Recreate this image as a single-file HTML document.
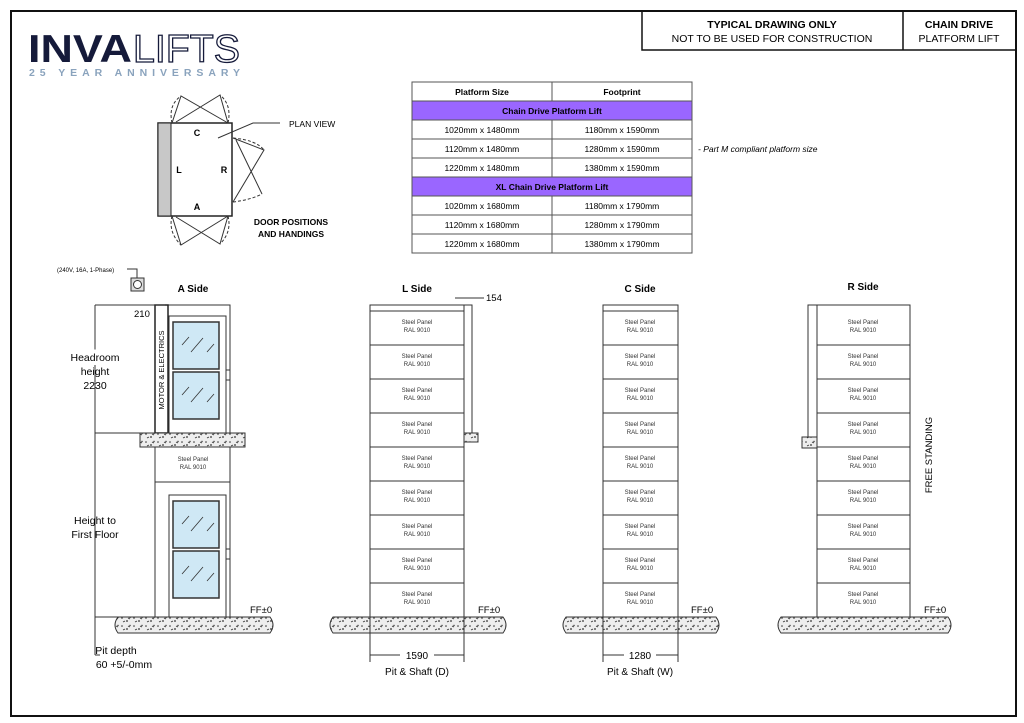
<!DOCTYPE html>
<html><head><meta charset="utf-8"><style>
html,body{margin:0;padding:0;background:#fff}
svg{display:block;font-family:"Liberation Sans",sans-serif}
.p{font-size:6px;fill:#333;text-anchor:middle}
.ln{stroke:#333;fill:none;stroke-width:1}
.g{fill:#fff;stroke:#333;stroke-width:1}
.gl{fill:#cfe8f5;stroke:#333;stroke-width:1.5}
</style></head><body>
<svg width="1024" height="723" viewBox="0 0 1024 723">
<defs>
<pattern id="conc" width="12" height="8" patternUnits="userSpaceOnUse">
<rect width="12" height="8" fill="#eee"/>
<circle cx="2" cy="2" r=".8" fill="#333"/><circle cx="7" cy="5" r=".9" fill="#333"/><circle cx="10" cy="1.5" r=".7" fill="#333"/><path d="M3 6l2-1M8 2l2 1" stroke="#333" stroke-width=".8"/>
</pattern>
</defs>
<rect x="11" y="11" width="1005" height="705" fill="none" stroke="#111" stroke-width="2"/>
<rect x="642" y="11" width="374" height="39" fill="none" stroke="#111" stroke-width="1.5"/>
<line x1="903" y1="11" x2="903" y2="50" stroke="#111" stroke-width="1.5"/>
<text x="772" y="28" font-size="10.5" font-weight="bold" text-anchor="middle">TYPICAL DRAWING ONLY</text>
<text x="772" y="42" font-size="10.5" text-anchor="middle">NOT TO BE USED FOR CONSTRUCTION</text>
<text x="959" y="28" font-size="10.5" font-weight="bold" text-anchor="middle">CHAIN DRIVE</text>
<text x="959" y="42" font-size="10.5" text-anchor="middle">PLATFORM LIFT</text>
<text x="28" y="62" font-size="39" font-weight="bold" fill="#151a3a" textLength="104" lengthAdjust="spacingAndGlyphs">INVA</text>
<text x="133" y="62" font-size="39" fill="#fff" stroke="#151a3a" stroke-width="1.3" textLength="107" lengthAdjust="spacingAndGlyphs">LIFTS</text>
<text x="29" y="76" font-size="10.5" font-weight="bold" fill="#8aa3bd" textLength="211" lengthAdjust="spacing">25 YEAR ANNIVERSARY</text>
<rect x="158" y="123" width="74" height="93" fill="#fff" stroke="#222" stroke-width="1.5"/>
<rect x="158" y="123" width="13" height="93" fill="#c8c8c8" stroke="#222" stroke-width="1"/>
<g class="ln" stroke-width="1">
<path d="M172 123 L181 96 L228 123 M176 122 L220 95 L228 123" />
<path d="M172 123 Q168 105 181 96 M228 123 Q232 105 220 95" stroke-dasharray="3 2"/>
<path d="M172 216 L181 245 L228 216 M176 217 L220 244 L228 216"/>
<path d="M172 216 Q168 232 181 245 M228 216 Q232 232 220 244" stroke-dasharray="3 2"/>
<path d="M233 138 L264 150 L233 202 M236 140 L262 194"/>
<path d="M233 138 Q256 140 264 150 M233 202 Q250 200 262 194" stroke-dasharray="3 2"/>
<path d="M218 138 L253 123 L280 123"/>
</g>
<text x="197" y="136" font-size="9" font-weight="bold" text-anchor="middle">C</text>
<text x="179" y="173" font-size="9" font-weight="bold" text-anchor="middle">L</text>
<text x="224" y="173" font-size="9" font-weight="bold" text-anchor="middle">R</text>
<text x="197" y="210" font-size="9" font-weight="bold" text-anchor="middle">A</text>
<text x="289" y="127" font-size="8.5">PLAN VIEW</text>
<text x="291" y="225" font-size="8.5" font-weight="bold" text-anchor="middle">DOOR POSITIONS</text>
<text x="291" y="237" font-size="8.5" font-weight="bold" text-anchor="middle">AND HANDINGS</text>
<rect x="412" y="101" width="280" height="19" fill="#9a66ff"/>
<rect x="412" y="177" width="280" height="19" fill="#9a66ff"/>
<g stroke="#555" stroke-width="1" fill="none">
<rect x="412" y="82" width="280" height="171"/>
<path d="M412 101H692M412 120H692M412 139H692M412 158H692M412 177H692M412 196H692M412 215H692M412 234H692"/>
<path d="M552 82V101M552 120V177M552 196V253"/>
</g>
<g font-size="8.5" text-anchor="middle">
<text x="482" y="95" font-weight="bold">Platform Size</text><text x="622" y="95" font-weight="bold">Footprint</text>
<text x="552" y="114" font-weight="bold">Chain Drive Platform Lift</text>
<text x="482" y="133">1020mm x 1480mm</text><text x="622" y="133">1180mm x 1590mm</text>
<text x="482" y="152">1120mm x 1480mm</text><text x="622" y="152">1280mm x 1590mm</text>
<text x="482" y="171">1220mm x 1480mm</text><text x="622" y="171">1380mm x 1590mm</text>
<text x="552" y="190" font-weight="bold">XL Chain Drive Platform Lift</text>
<text x="482" y="209">1020mm x 1680mm</text><text x="622" y="209">1180mm x 1790mm</text>
<text x="482" y="228">1120mm x 1680mm</text><text x="622" y="228">1280mm x 1790mm</text>
<text x="482" y="247">1220mm x 1680mm</text><text x="622" y="247">1380mm x 1790mm</text>
</g>
<text x="698" y="152" font-size="8.5" font-style="italic">- Part M compliant platform size</text>

<g fill="url(#conc)" stroke="#333" stroke-width="1">
<path d="M118 617H270Q276 625 270 633H118Q112 625 118 617Z"/>
<path d="M333 617H503Q509 625 503 633H333Q327 625 333 617Z"/>
<path d="M566 617H716Q722 625 716 633H566Q560 625 566 617Z"/>
<path d="M781 617H948Q954 625 948 633H781Q775 625 781 617Z"/>
</g>
<g font-size="9.5"><text x="250" y="613">FF±0</text><text x="478" y="613">FF±0</text><text x="691" y="613">FF±0</text><text x="924" y="613">FF±0</text></g>

<text x="193" y="292" font-size="10" font-weight="bold" text-anchor="middle">A Side</text>
<text x="57" y="272" font-size="6">(240V, 16A, 1-Phase)</text>
<path d="M127 269H137V278" class="ln"/>
<rect x="131" y="278" width="13" height="13" fill="#ddd" stroke="#333"/>
<circle cx="137.5" cy="284.5" r="4" fill="#fff" stroke="#333"/>
<rect x="155" y="305" width="75" height="312" class="g"/>
<rect x="155" y="305" width="13" height="128" fill="#fff" stroke="#222" stroke-width="1.5"/>
<text transform="translate(164 370) rotate(-90)" font-size="7.5" text-anchor="middle">MOTOR &amp; ELECTRICS</text>
<rect x="169" y="316" width="57" height="117" fill="#fff" stroke="#333"/>
<rect x="173" y="322" width="46" height="47" class="gl"/><rect x="173" y="372" width="46" height="47" class="gl"/>
<rect x="140" y="433" width="105" height="14" fill="url(#conc)" stroke="#333"/>
<line x1="155" y1="482" x2="230" y2="482" stroke="#333"/>
<text x="193" y="461" class="p">Steel Panel</text><text x="193" y="469" class="p">RAL 9010</text>
<rect x="169" y="495" width="57" height="122" fill="#fff" stroke="#333"/>
<rect x="173" y="501" width="46" height="47" class="gl"/><rect x="173" y="551" width="46" height="47" class="gl"/>
<g stroke="#333" stroke-width=".8"><path d="M182 345l7-8M191 352l12-14M207 352l7-8M182 395l7-8M191 402l12-14M207 402l7-8M182 524l7-8M191 531l12-14M207 531l7-8M182 574l7-8M191 581l12-14M207 581l7-8"/></g>
<rect x="226" y="370" width="4" height="10" fill="#fff" stroke="#333"/><rect x="226" y="549" width="4" height="10" fill="#fff" stroke="#333"/>
<g class="ln"><path d="M95 305H165M95 433H140M95 617H118M95 655H100M95 305V655"/></g>
<text x="134" y="317" font-size="9.5">210</text>
<g font-size="10.5" text-anchor="middle"><text x="95" y="361" fill="#fff" stroke="#fff" stroke-width="8">Headroom</text><text x="95" y="361">Headroom</text>
<text x="95" y="375">height</text><text x="95" y="389">2230</text>
<text x="95" y="524">Height to</text><text x="95" y="538">First Floor</text>
<text x="116" y="654">Pit depth</text><text x="124" y="668">60 +5/-0mm</text></g>

<text x="417" y="292" font-size="10" font-weight="bold" text-anchor="middle">L Side</text>
<rect x="370" y="305" width="94" height="312" class="g"/>
<rect x="464" y="305" width="8" height="128" fill="#fff" stroke="#333"/>
<rect x="464" y="433" width="14" height="9" fill="url(#conc)" stroke="#333"/>
<path d="M455 298H484" class="ln"/><text x="486" y="301" font-size="9.5">154</text>
<g class="ln"><path d="M370 311H464M370 345H464M370 379H464M370 413H464M370 447H464M370 481H464M370 515H464M370 549H464M370 583H464"/>
<path d="M370 617V662M464 617V662M370 655H400M434 655H464"/></g>
<text x="417" y="659" font-size="10" text-anchor="middle">1590</text>
<text x="417" y="675" font-size="10" text-anchor="middle">Pit &amp; Shaft (D)</text>

<text x="640" y="292" font-size="10" font-weight="bold" text-anchor="middle">C Side</text>
<rect x="603" y="305" width="75" height="312" class="g"/>
<g class="ln"><path d="M603 311H678M603 345H678M603 379H678M603 413H678M603 447H678M603 481H678M603 515H678M603 549H678M603 583H678"/>
<path d="M603 617V662M678 617V662M603 655H624M656 655H678"/></g>
<text x="640" y="659" font-size="10" text-anchor="middle">1280</text>
<text x="640" y="675" font-size="10" text-anchor="middle">Pit &amp; Shaft (W)</text>

<text x="863" y="290" font-size="10" font-weight="bold" text-anchor="middle">R Side</text>
<rect x="817" y="305" width="93" height="312" class="g"/>
<rect x="808" y="305" width="9" height="132" fill="#fff" stroke="#333"/>
<rect x="802" y="437" width="15" height="11" fill="url(#conc)" stroke="#333"/>
<g class="ln"><path d="M817 345H910M817 379H910M817 413H910M817 447H910M817 481H910M817 515H910M817 549H910M817 583H910"/></g>
<text transform="translate(932 455) rotate(-90)" font-size="9.5" text-anchor="middle">FREE STANDING</text>

<g class="p">
<text x="417" y="324">Steel Panel</text><text x="417" y="332">RAL 9010</text>
<text x="417" y="358">Steel Panel</text><text x="417" y="366">RAL 9010</text>
<text x="417" y="392">Steel Panel</text><text x="417" y="400">RAL 9010</text>
<text x="417" y="426">Steel Panel</text><text x="417" y="434">RAL 9010</text>
<text x="417" y="460">Steel Panel</text><text x="417" y="468">RAL 9010</text>
<text x="417" y="494">Steel Panel</text><text x="417" y="502">RAL 9010</text>
<text x="417" y="528">Steel Panel</text><text x="417" y="536">RAL 9010</text>
<text x="417" y="562">Steel Panel</text><text x="417" y="570">RAL 9010</text>
<text x="417" y="596">Steel Panel</text><text x="417" y="604">RAL 9010</text>
<text x="640" y="324">Steel Panel</text><text x="640" y="332">RAL 9010</text>
<text x="640" y="358">Steel Panel</text><text x="640" y="366">RAL 9010</text>
<text x="640" y="392">Steel Panel</text><text x="640" y="400">RAL 9010</text>
<text x="640" y="426">Steel Panel</text><text x="640" y="434">RAL 9010</text>
<text x="640" y="460">Steel Panel</text><text x="640" y="468">RAL 9010</text>
<text x="640" y="494">Steel Panel</text><text x="640" y="502">RAL 9010</text>
<text x="640" y="528">Steel Panel</text><text x="640" y="536">RAL 9010</text>
<text x="640" y="562">Steel Panel</text><text x="640" y="570">RAL 9010</text>
<text x="640" y="596">Steel Panel</text><text x="640" y="604">RAL 9010</text>
<text x="863" y="324">Steel Panel</text><text x="863" y="332">RAL 9010</text>
<text x="863" y="358">Steel Panel</text><text x="863" y="366">RAL 9010</text>
<text x="863" y="392">Steel Panel</text><text x="863" y="400">RAL 9010</text>
<text x="863" y="426">Steel Panel</text><text x="863" y="434">RAL 9010</text>
<text x="863" y="460">Steel Panel</text><text x="863" y="468">RAL 9010</text>
<text x="863" y="494">Steel Panel</text><text x="863" y="502">RAL 9010</text>
<text x="863" y="528">Steel Panel</text><text x="863" y="536">RAL 9010</text>
<text x="863" y="562">Steel Panel</text><text x="863" y="570">RAL 9010</text>
<text x="863" y="596">Steel Panel</text><text x="863" y="604">RAL 9010</text>
</g>
</svg>
</body></html>
